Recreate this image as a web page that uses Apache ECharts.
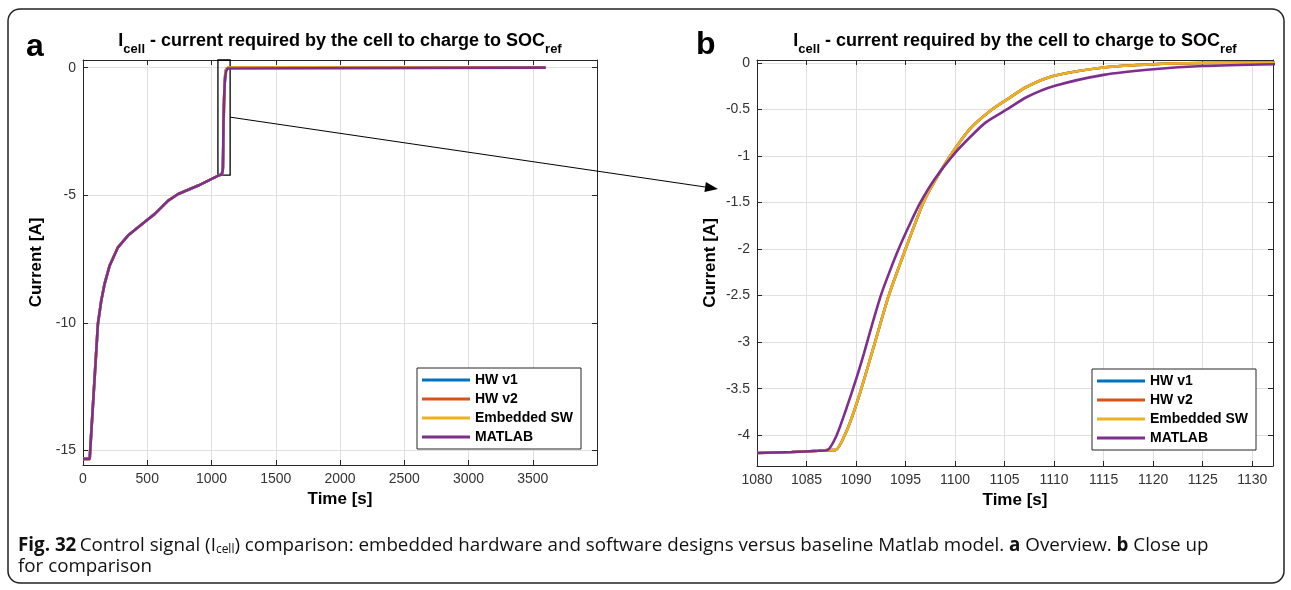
<!DOCTYPE html>
<html>
<head>
<meta charset="utf-8">
<title>Icell - control signal comparison</title>
<script src="https://cdn.jsdelivr.net/npm/echarts@6/dist/echarts.min.js"></script>
<style>
  html, body { margin: 0; padding: 0; background: #fff; }
  #main { width: 1291px; height: 590px; }
</style>
</head>
<body>
<div id="main"></div>
<script>
// ---- data ----
var seriesNames = ['HW v1', 'HW v2', 'Embedded SW', 'MATLAB'];
var seriesColors = ['#0072BD', '#D95319', '#EDB120', '#7E2F8E'];

// (a) overview: part of the run before the step near 1087 s (all designs overlap)
var baseTime    = [0, 52, 85, 116, 142, 168, 207, 272, 350, 494, 559, 663, 741, 897, 1053];
var baseCurrent = [-15.33, -15.33, -12.6, -10.04, -9.13, -8.47, -7.76, -7.04, -6.58, -5.99, -5.73, -5.21, -4.95, -4.62, -4.23];
var endTime = [3600];
var endCurrent = [0];

// (b) close up, MATLAB model
var matlabTime    = [1080, 1083.5, 1086.2, 1087.1, 1088.0, 1089.0, 1090.0, 1090.8, 1091.6, 1092.5, 1093.4, 1094.3, 1095.4, 1096.5, 1098.0, 1099.9, 1101.5, 1103.1, 1105.4, 1107.2, 1110, 1115, 1120, 1125, 1132.5];
var matlabCurrent = [-4.19, -4.18, -4.167, -4.16, -4.01, -3.72, -3.40, -3.12, -2.82, -2.50, -2.24, -2.00, -1.74, -1.50, -1.24, -0.98, -0.80, -0.64, -0.49, -0.37, -0.25, -0.13, -0.07, -0.035, -0.015];

// (b) close up, embedded software (hardware runs lie underneath it)
var swTime    = [1080, 1083.5, 1086.2, 1087.1, 1087.9, 1089.1, 1090.3, 1091.7, 1093.3, 1095.0, 1096.8, 1098.0, 1099.5, 1101.5, 1103.5, 1105.3, 1107.2, 1110, 1115, 1120, 1125, 1132.5];
var swCurrent = [-4.19, -4.18, -4.167, -4.16, -4.16, -3.94, -3.58, -3.08, -2.50, -2.00, -1.50, -1.26, -1.00, -0.71, -0.52, -0.39, -0.26, -0.14, -0.05, -0.015, -0.003, 0];

// zoom window drawn on (a): [t0, t1, i0, i1]
var zoomBox = [1050, 1145, -4.21, 0.3];

var titleText = '{m|I}{s|cell}{m| - current required by the cell to charge to SOC}{s|ref}';
var captionText = '{b|Fig. 32} {n|Control signal (I}{s|cell}{n|) comparison: embedded hardware and software designs versus baseline Matlab model. }{b|a}{n| Overview. }{b|b}{n| Close up}\n{n|for comparison}';

// ---- helpers ----
function pairs(t, v) {
  return t.map(function (x, i) { return [x, v[i]]; });
}
var overviewSW = pairs(baseTime.concat(swTime, endTime), baseCurrent.concat(swCurrent, endCurrent));
var overviewMatlab = pairs(baseTime.concat(matlabTime, endTime), baseCurrent.concat(matlabCurrent, endCurrent));
var closeSW = pairs(swTime, swCurrent);
var closeMatlab = pairs(matlabTime, matlabCurrent);

var FONT = '"Liberation Sans", Arial, Helvetica, sans-serif';
var CAPTION_FONT = '"Open Sans", "Noto Sans", sans-serif';
var AXIS_COLOR = '#262626';

function baseAxis(gridIndex, position, min, max, extra) {
  var ax = {
    type: 'value',
    gridIndex: gridIndex,
    position: position,
    min: min,
    max: max,
    axisLine: { show: true, onZero: false, lineStyle: { color: AXIS_COLOR, width: 1 } },
    axisTick: { show: true, inside: true, length: 5, lineStyle: { color: AXIS_COLOR } },
    axisLabel: { show: false },
    splitLine: { show: false }
  };
  for (var k in extra) ax[k] = extra[k];
  return ax;
}

function labelled(ax, name, gap, rotate) {
  ax.axisLabel = {
    show: true, color: '#333', fontFamily: FONT, fontSize: 14, margin: 7,
    showMinLabel: ax.position === 'bottom', showMaxLabel: false,
    formatter: function (v) { return String(+v.toFixed(2)); }
  };
  ax.splitLine = { show: true, lineStyle: { color: '#e0e0e0', width: 1 } };
  ax.name = name;
  ax.nameLocation = 'middle';
  ax.nameGap = gap;
  if (rotate) ax.nameRotate = 90;
  ax.nameTextStyle = { fontFamily: FONT, fontWeight: 'bold', fontSize: 17, color: '#000' };
  return ax;
}

function lineSeries(i, data, xi, yi, smooth) {
  return {
    name: seriesNames[i],
    type: 'line',
    xAxisIndex: xi,
    yAxisIndex: yi,
    data: data,
    symbol: 'none',
    showSymbol: false,
    smooth: smooth || false,
    lineStyle: { color: seriesColors[i], width: 2.6 },
    itemStyle: { color: seriesColors[i] },
    clip: true
  };
}

function legendAt(left, top) {
  return {
    orient: 'vertical',
    left: left, top: top,
    padding: [5, 8, 5, 5],
    itemGap: 5,
    itemWidth: 48,
    itemHeight: 3,
    icon: 'rect',
    selectedMode: false,
    backgroundColor: '#fff',
    borderColor: AXIS_COLOR,
    borderWidth: 1,
    textStyle: { fontFamily: FONT, fontWeight: 'bold', fontSize: 14, color: '#000' },
    data: seriesNames
  };
}

var titleRich = {
  m: { fontFamily: FONT, fontWeight: 'bold', fontSize: 18, lineHeight: 20, color: '#000' },
  s: { fontFamily: FONT, fontWeight: 'bold', fontSize: 13, lineHeight: 14, padding: [16, 0, 0, 0], color: '#000' }
};

var myChart = echarts.init(document.getElementById('main'));

var option = {
  animation: false,
  backgroundColor: '#fff',
  title: [
    { text: titleText, left: 340, top: 31, textAlign: 'center', padding: 0, textStyle: { rich: titleRich } },
    { text: titleText, left: 1015, top: 31, textAlign: 'center', padding: 0, textStyle: { rich: titleRich } }
  ],
  grid: [
    { left: 83, top: 60, width: 514, height: 405 },
    { left: 757, top: 60, width: 516, height: 406 }
  ],
  xAxis: [
    labelled(baseAxis(0, 'bottom', 0, 4000, { interval: 500 }), 'Time [s]', 26),
    baseAxis(0, 'top', 0, 4000, { interval: 500 }),
    labelled(baseAxis(1, 'bottom', 1080, 1132.1, { interval: 5 }), 'Time [s]', 26),
    baseAxis(1, 'top', 1080, 1132.1, { interval: 5 })
  ],
  yAxis: [
    labelled(baseAxis(0, 'left', -15.57, 0.3, { splitNumber: 3 }), 'Current [A]', 38, true),
    baseAxis(0, 'right', -15.57, 0.3, { splitNumber: 3 }),
    labelled(baseAxis(1, 'left', -4.33, 0.03, { splitNumber: 9 }), 'Current [A]', 38, true),
    baseAxis(1, 'right', -4.33, 0.03, { splitNumber: 9 })
  ],
  legend: [legendAt(417, 368), legendAt(1092, 369)],
  series: [
    lineSeries(0, overviewSW, 0, 0),
    lineSeries(1, overviewSW, 0, 0),
    lineSeries(2, overviewSW, 0, 0),
    (function () {
      var s = lineSeries(3, overviewMatlab, 0, 0);
      s.markArea = {
        silent: true,
        label: { show: false },
        itemStyle: { color: 'rgba(0,0,0,0)', borderColor: '#000', borderWidth: 1.3 },
        data: [[{ xAxis: zoomBox[0], yAxis: zoomBox[3] }, { xAxis: zoomBox[1], yAxis: zoomBox[2] }]]
      };
      return s;
    })(),
    lineSeries(0, closeSW, 2, 2, 0.25),
    lineSeries(1, closeSW, 2, 2, 0.25),
    lineSeries(2, closeSW, 2, 2, 0.25),
    lineSeries(3, closeMatlab, 2, 2, 0.25)
  ]
};

myChart.setOption(option);

// arrow from the zoom window to panel b
var p0 = myChart.convertToPixel({ xAxisIndex: 0, yAxisIndex: 0 }, [zoomBox[1], -1.94]);
var p1 = myChart.convertToPixel({ xAxisIndex: 2, yAxisIndex: 2 }, [1080, -1.354]);
p1[0] -= 39;
var ang = Math.atan2(p1[1] - p0[1], p1[0] - p0[0]);
var headLen = 13, headW = 5;
var bx = p1[0] - headLen * Math.cos(ang), by = p1[1] - headLen * Math.sin(ang);
var head = [
  [p1[0], p1[1]],
  [bx + headW * Math.sin(ang), by - headW * Math.cos(ang)],
  [bx - headW * Math.sin(ang), by + headW * Math.cos(ang)]
];

myChart.setOption({
  graphic: [
    { type: 'rect', shape: { x: 8, y: 9, width: 1276, height: 574, r: 12 },
      style: { fill: 'none', stroke: '#222', lineWidth: 1.5 }, silent: true },
    { type: 'text', left: 26, top: 31, style: { text: 'a', font: 'bold 32px ' + FONT, fill: '#000' } },
    { type: 'text', left: 696, top: 29, style: { text: 'b', font: 'bold 32px ' + FONT, fill: '#000' } },
    { type: 'line', shape: { x1: p0[0], y1: p0[1], x2: bx, y2: by }, style: { stroke: '#000', lineWidth: 1 }, z: 10 },
    { type: 'polygon', shape: { points: head }, style: { fill: '#000' }, z: 10 },
    { type: 'text', left: 18, top: 536, style: {
        text: captionText,
        rich: {
          n: { fontFamily: CAPTION_FONT, fontSize: 18.8, lineHeight: 21, fill: '#111' },
          b: { fontFamily: CAPTION_FONT, fontSize: 18.8, lineHeight: 21, fontWeight: 'bold', fill: '#111' },
          s: { fontFamily: CAPTION_FONT, fontSize: 12, lineHeight: 13, padding: [8, 0, 0, 0], fill: '#111' }
        }
      } }
  ]
});
</script>
</body>
</html>
